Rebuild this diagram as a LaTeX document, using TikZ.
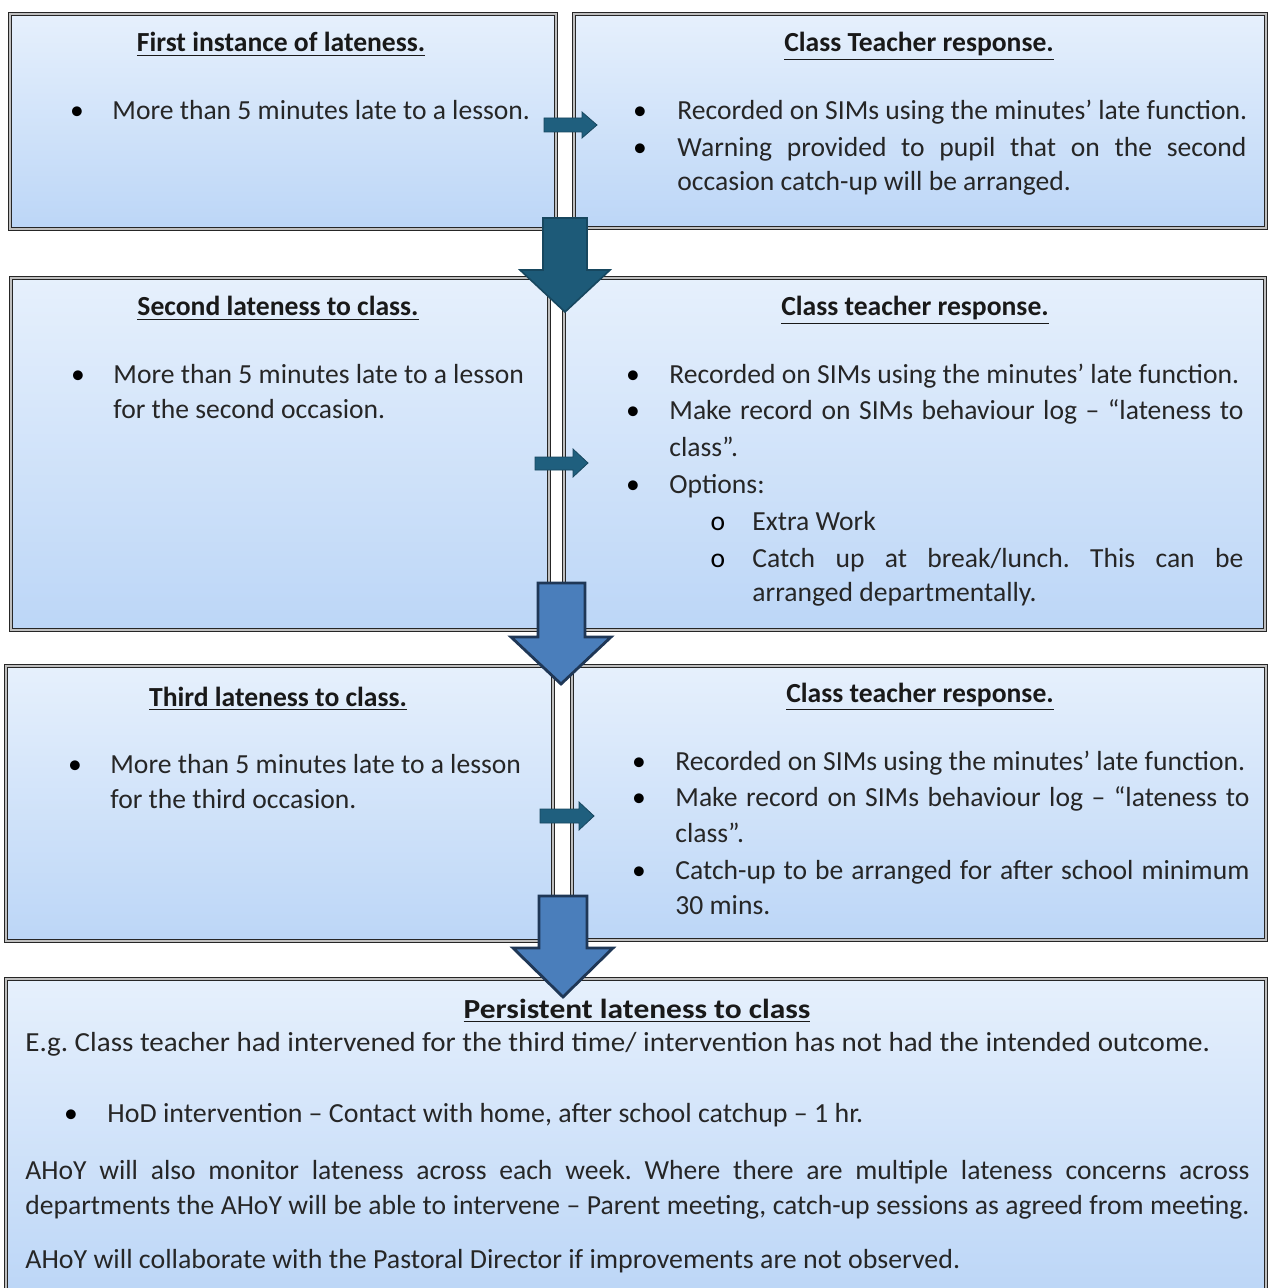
\documentclass[tikz,border=0pt]{standalone}
\usepackage{fontspec}
\usepackage{graphicx}
\setmainfont{Carlito}
\frenchspacing
\definecolor{boxtop}{HTML}{E6F0FC}
\definecolor{boxbot}{HTML}{BCD6F7}
\definecolor{arrteal}{HTML}{1F5F7E}
\definecolor{arrtealedge}{HTML}{17475F}
\definecolor{arrblue}{HTML}{4A7EBB}
\definecolor{arredge}{HTML}{1F3756}
\newcommand\fs{\fontsize{13.8pt}{18pt}\selectfont}
\newcommand\jline[2]{\makebox[\dimexpr #1pt/2\relax][s]{#2}}
\tikzset{
  panel/.style={draw=black!85, double=black!25, double distance=1.1pt, line width=0.65pt, top color=boxtop, bottom color=boxbot},
  txt/.style={anchor=base west, inner sep=0pt, font=\fs, text=black!85},
  ttl/.style={anchor=base, inner sep=0pt, font=\fs\bfseries, text=black!90},
  bul/.style={anchor=base, inner sep=0pt, font=\fs, text=black},
  smallarrow/.style={fill=arrteal, draw=arrtealedge, line width=0.4pt, line join=miter},
  bigdark/.style={fill=arrteal!95!black, draw=arrtealedge, line width=0.8pt, line join=miter},
  bigblue/.style={fill=arrblue, draw=arredge, line width=1.4pt, line join=miter}
}
\begin{document}
\begin{tikzpicture}[x=0.5pt,y=-0.5pt]
\useasboundingbox (0,0) rectangle (1268,1288);
\fill[white] (0,0) rectangle (1268,1288);
% panels
\path[panel] (10,14) rectangle (556,229);
\path[panel] (574,14) rectangle (1266,228);
\path[panel] (11,278) rectangle (549,630);
\path[panel] (564,278) rectangle (1265,630);
\path[panel] (6,666) rectangle (553,941);
\path[panel] (572,666) rectangle (1266,940);
\path[panel] (6,979) rectangle (1266,1295);

% Row 1
\node[ttl] (t1l) at (281,52) {\underline{First instance of lateness.}};
\node[bul] (b1a) at (77,120) {•};
\node[txt] (l1a) at (112,120) {More than 5 minutes late to a lesson.};
\node[ttl] (t1r) at (919,52) {\underline{Class Teacher response.}};
\node[bul] (b1b) at (640,120) {•};
\node[bul] (b1c) at (640,157) {•};
\node[txt] (r1a) at (677,120) {Recorded on SIMs using the minutes’ late function.};
\node[txt] (r1b) at (677,157) {\jline{569}{Warning provided to pupil that on the second}};
\node[txt] (r1c) at (677,191) {occasion catch-up will be arranged.};

% Row 2
\node[ttl] (t2l) at (278,316) {\underline{Second lateness to class.}};
\node[bul] (b2a) at (78,384) {•};
\node[txt] (l2a) at (113,384) {More than 5 minutes late to a lesson};
\node[txt] (l2b) at (113,418) {for the second occasion.};
\node[ttl] (t2r) at (915,316) {\underline{Class teacher response.}};
\node[bul] (b2b) at (633,384) {•};
\node[bul] (b2c) at (633,420) {•};
\node[bul] (b2d) at (633,493) {•};
\node[txt] (r2a) at (669,384) {Recorded on SIMs using the minutes’ late function.};
\node[txt] (r2b) at (669,420) {\jline{574}{Make record on SIMs behaviour log – “lateness to}};
\node[txt] (r2c) at (669,456) {class”.};
\node[txt] (r2d) at (669,493) {Options:};
\node[bul] (o2a) at (718,530) {o};
\node[bul] (o2b) at (718,567) {o};
\node[txt] (r2e) at (752,530) {Extra Work};
\node[txt] (r2f) at (752,567) {\jline{491}{Catch up at break/lunch. This can be}};
\node[txt] (r2g) at (752,601) {arranged departmentally.};

% Row 3
\node[ttl] (t3l) at (278,706) {\underline{Third lateness to class.}};
\node[bul] (b3a) at (75,773) {•};
\node[txt] (l3a) at (110,773) {More than 5 minutes late to a lesson};
\node[txt] (l3b) at (110,808) {for the third occasion.};
\node[ttl] (t3r) at (920,702) {\underline{Class teacher response.}};
\node[bul] (b3b) at (639,770) {•};
\node[bul] (b3c) at (639,806) {•};
\node[bul] (b3d) at (639,879) {•};
\node[txt] (r3a) at (675,770) {Recorded on SIMs using the minutes’ late function.};
\node[txt] (r3b) at (675,806) {\jline{574}{Make record on SIMs behaviour log – “lateness to}};
\node[txt] (r3c) at (675,842) {class”.};
\node[txt] (r3d) at (675,879) {\jline{574}{Catch-up to be arranged for after school minimum}};
\node[txt] (r3e) at (675,914) {30 mins.};

% Row 4
\node[ttl] (t4) at (637,1018) {\underline{\scalebox{1.14}[1]{Persistent lateness to class}}};
\node[txt] (p1) at (25,1051) {\scalebox{1.052}[1]{E.g. Class teacher had intervened for the third time/ intervention has not had the intended outcome.}};
\node[bul] (b4a) at (71,1122) {•};
\node[txt] (p2) at (107,1122) {\scalebox{1.012}[1]{HoD intervention – Contact with home, after school catchup – 1 hr.}};
\node[txt] (p3) at (25,1179) {\jline{1224}{AHoY will also monitor lateness across each week. Where there are multiple lateness concerns across}};
\node[txt] (p4) at (25,1214) {\jline{1224}{departments the AHoY will be able to intervene – Parent meeting, catch-up sessions as agreed from meeting.}};
\node[txt] (p5) at (25,1268) {\scalebox{1.011}[1]{AHoY will collaborate with the Pastoral Director if improvements are not observed.}};

% small right arrows
\draw[smallarrow] (544,118) -- (582,118) -- (582,112) -- (597,125) -- (582,138) -- (582,132) -- (544,132) -- cycle;
\draw[smallarrow] (535,457) -- (573,457) -- (573,449) -- (588,463) -- (573,477) -- (573,470) -- (535,470) -- cycle;
\draw[smallarrow] (540,809) -- (579,809) -- (579,802) -- (594,816) -- (579,830) -- (579,823) -- (540,823) -- cycle;

% big down arrows
\draw[bigdark] (543,218) -- (587,218) -- (587,270) -- (610,270) -- (565,312) -- (520,270) -- (543,270) -- cycle;
\draw[bigblue] (538,583) -- (585,583) -- (585,637) -- (611,637) -- (561,684) -- (511,637) -- (538,637) -- cycle;
\draw[bigblue] (539,896) -- (587,896) -- (587,948) -- (613,948) -- (563,997) -- (513,948) -- (539,948) -- cycle;
\end{tikzpicture}
\end{document}
